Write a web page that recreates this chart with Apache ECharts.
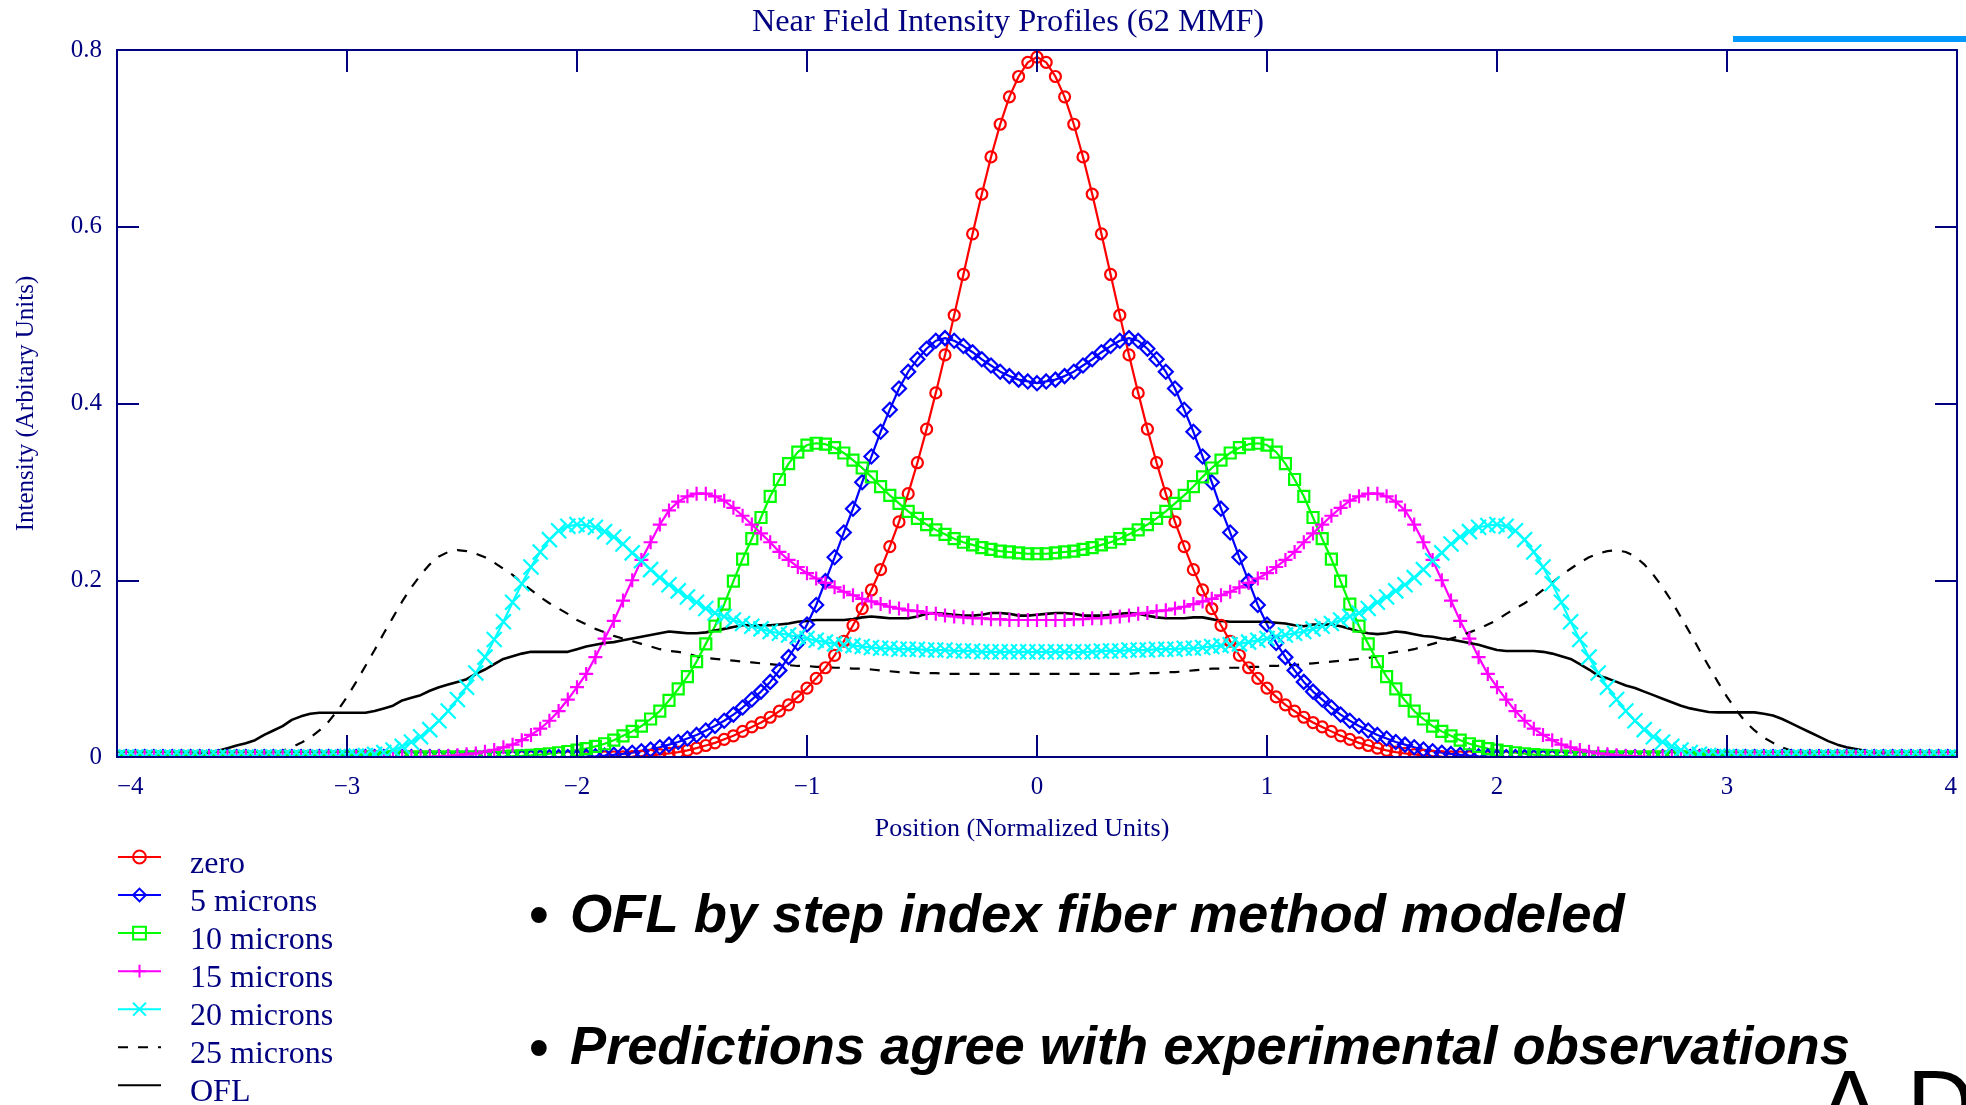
<!DOCTYPE html>
<html>
<head>
<meta charset="UTF-8">
<title>Near Field Intensity Profiles (62 MMF)</title>
<style>
  html, body { margin: 0; padding: 0; background: #ffffff; }
  #chart { width: 1966px; height: 1105px; }
</style>
</head>
<body>
<div id="chart"></div>
<script src="https://cdn.jsdelivr.net/npm/echarts@6/dist/echarts.min.js"></script>
<script>
// sample positions (normalized units), one every 0.04
var positions = [
  -4.00,-3.96,-3.92,-3.88,-3.84,-3.80,-3.76,-3.72,-3.68,-3.64,
  -3.60,-3.56,-3.52,-3.48,-3.44,-3.40,-3.36,-3.32,-3.28,-3.24,
  -3.20,-3.16,-3.12,-3.08,-3.04,-3.00,-2.96,-2.92,-2.88,-2.84,
  -2.80,-2.76,-2.72,-2.68,-2.64,-2.60,-2.56,-2.52,-2.48,-2.44,
  -2.40,-2.36,-2.32,-2.28,-2.24,-2.20,-2.16,-2.12,-2.08,-2.04,
  -2.00,-1.96,-1.92,-1.88,-1.84,-1.80,-1.76,-1.72,-1.68,-1.64,
  -1.60,-1.56,-1.52,-1.48,-1.44,-1.40,-1.36,-1.32,-1.28,-1.24,
  -1.20,-1.16,-1.12,-1.08,-1.04,-1.00,-0.96,-0.92,-0.88,-0.84,
  -0.80,-0.76,-0.72,-0.68,-0.64,-0.60,-0.56,-0.52,-0.48,-0.44,
  -0.40,-0.36,-0.32,-0.28,-0.24,-0.20,-0.16,-0.12,-0.08,-0.04,
  0,
  0.04,0.08,0.12,0.16,0.20,0.24,0.28,0.32,0.36,0.40,
  0.44,0.48,0.52,0.56,0.60,0.64,0.68,0.72,0.76,0.80,
  0.84,0.88,0.92,0.96,1.00,1.04,1.08,1.12,1.16,1.20,
  1.24,1.28,1.32,1.36,1.40,1.44,1.48,1.52,1.56,1.60,
  1.64,1.68,1.72,1.76,1.80,1.84,1.88,1.92,1.96,2.00,
  2.04,2.08,2.12,2.16,2.20,2.24,2.28,2.32,2.36,2.40,
  2.44,2.48,2.52,2.56,2.60,2.64,2.68,2.72,2.76,2.80,
  2.84,2.88,2.92,2.96,3.00,3.04,3.08,3.12,3.16,3.20,
  3.24,3.28,3.32,3.36,3.40,3.44,3.48,3.52,3.56,3.60,
  3.64,3.68,3.72,3.76,3.80,3.84,3.88,3.92,3.96,4.00
];

var zero = [
  0,0,0,0,0,0,0,0,0,0, 0,0,0,0,0,0,0,0,0,0, 0,0,0,0,0,0,0,0,0,0,
  0,0,0,0,0,0,0,0,0,0, 0,0,0,0,0,0,0,0,0,0, 0,0,0,0,0,
  0.0002,0.0005,0.001,0.0018,0.0028,0.004,0.0055,0.0075,0.010,0.013,
  0.016,0.020,0.024,0.029,0.034,0.039,0.045,0.052,0.059,0.068,
  0.078,0.089,0.101,0.115,0.131,0.149,0.168,0.189,0.212,0.238,
  0.266,0.298,0.333,0.371,0.412,0.455,0.500,0.546,0.592,0.637,
  0.679,0.716,0.747,0.770,0.786,
  0.792,
  0.786,0.770,0.747,0.716,0.679,
  0.637,0.592,0.546,0.500,0.455,0.412,0.371,0.333,0.298,0.266,
  0.238,0.212,0.189,0.168,0.149,0.131,0.115,0.101,0.089,0.078,
  0.068,0.059,0.052,0.045,0.039,0.034,0.029,0.024,0.020,0.016,
  0.013,0.010,0.0075,0.0055,0.004,0.0028,0.0018,0.001,0.0005,0.0002,
  0,0,0,0,0,0,0,0,0,0, 0,0,0,0,0,0,0,0,0,0, 0,0,0,0,0,0,0,0,0,0,
  0,0,0,0,0,0,0,0,0,0, 0,0,0,0,0,0,0,0,0,0, 0,0,0,0,0
];

var fiveMicrons = [
  0,0,0,0,0,0,0,0,0,0, 0,0,0,0,0,0,0,0,0,0, 0,0,0,0,0,0,0,0,0,0,
  0,0,0,0,0,0,0,0,0,0, 0,0,0,0,0,0,0,0,0,0,
  0.0001,0.0004,0.0008,0.0015,0.0025,0.0035,0.0048,0.0065,0.0085,0.011,
  0.014,0.017,0.021,0.025,0.030,0.035,0.041,0.048,0.056,0.065,
  0.074,0.085,0.098,0.113,0.129,0.150,0.172,0.199,0.226,0.254,
  0.281,0.311,0.340,0.368,0.393,0.417,0.436,0.450,0.462,0.471,
  0.474,0.471,0.465,0.458,0.450,0.443,0.436,0.431,0.427,0.425,
  0.423,
  0.425,0.427,0.431,0.436,0.443,0.450,0.458,0.465,0.471,0.474,
  0.471,0.462,0.450,0.436,0.417,0.393,0.368,0.340,0.311,0.281,
  0.254,0.226,0.199,0.172,0.150,0.129,0.113,0.098,0.085,0.074,
  0.065,0.056,0.048,0.041,0.035,0.030,0.025,0.021,0.017,0.014,
  0.011,0.0085,0.0065,0.0048,0.0035,0.0025,0.0015,0.0008,0.0004,0.0001,
  0,0,0,0,0,0,0,0,0,0, 0,0,0,0,0,0,0,0,0,0, 0,0,0,0,0,0,0,0,0,0,
  0,0,0,0,0,0,0,0,0,0, 0,0,0,0,0,0,0,0,0,0
];

var tenMicrons = [
  0,0,0,0,0,0,0,0,0,0, 0,0,0,0,0,0,0,0,0,0, 0,0,0,0,0,0,0,0,0,0,
  0,0,0,0,0,0,0,0,0,0, 0,
  0.0002,0.0005,0.0009,0.0014,0.002,0.0027,0.0037,0.0048,0.0062,0.0078,
  0.0095,0.012,0.015,0.019,0.024,0.029,0.035,0.043,0.052,0.064,
  0.077,0.091,0.108,0.128,0.148,0.173,0.199,0.224,0.247,0.271,
  0.295,0.314,0.332,0.345,0.353,0.355,0.354,0.350,0.344,0.336,
  0.327,0.317,0.306,0.296,0.287,0.278,0.270,0.263,0.257,0.252,
  0.247,0.243,0.240,0.237,0.235,0.233,0.232,0.231,0.230,
  0.230,
  0.230,0.231,0.232,0.233,0.235,0.237,0.240,0.243,0.247,
  0.252,0.257,0.263,0.270,0.278,0.287,0.296,0.306,0.317,0.327,
  0.336,0.344,0.350,0.354,0.355,0.353,0.345,0.332,0.314,0.295,
  0.271,0.247,0.224,0.199,0.173,0.148,0.128,0.108,0.091,0.077,
  0.064,0.052,0.043,0.035,0.029,0.024,0.019,0.015,0.012,0.0095,
  0.0078,0.0062,0.0048,0.0037,0.0027,0.002,0.0014,0.0009,0.0005,0.0002,
  0,0,0,0,0,0,0,0,0,0, 0,0,0,0,0,0,0,0,0,0, 0,0,0,0,0,0,0,0,0,0,
  0,0,0,0,0,0,0,0,0,0, 0
];

var fifteenMicrons = [
  0,0,0,0,0,0,0,0,0,0, 0,0,0,0,0,0,0,0,0,0, 0,0,0,0,0,0,0,0,0,0,
  0,0,0,0,
  0.0002,0.0006,0.0012,0.002,0.003,0.004,0.006,
  0.008,0.011,0.014,0.019,0.025,0.032,0.041,0.052,0.065,0.079,
  0.094,0.113,0.134,0.154,0.177,0.200,0.223,0.243,0.263,0.279,
  0.289,0.295,0.298,0.298,0.295,0.290,0.282,0.273,0.263,0.253,
  0.243,0.232,0.223,0.215,0.208,0.202,0.197,0.192,0.187,0.183,
  0.179,0.176,0.173,0.170,0.168,0.166,0.165,0.163,0.162,0.160,
  0.159,0.158,0.157,0.157,0.156,0.156,0.155,0.155,0.155,
  0.155,
  0.155,0.155,0.155,0.156,0.156,0.157,0.157,0.158,0.159,
  0.160,0.162,0.163,0.165,0.166,0.168,0.170,0.173,0.176,0.179,
  0.183,0.187,0.192,0.197,0.202,0.208,0.215,0.223,0.232,0.243,
  0.253,0.263,0.273,0.282,0.290,0.295,0.298,0.298,0.295,0.289,
  0.279,0.263,0.243,0.223,0.200,0.177,0.154,0.134,0.113,0.094,
  0.079,0.065,0.052,0.041,0.032,0.025,0.019,0.014,0.011,0.008,
  0.006,0.004,0.003,0.002,0.0012,0.0006,0.0002,
  0,0,0,0,0,0,0,0,0,0, 0,0,0,0,0,0,0,0,0,0, 0,0,0,0,0,0,0,0,0,0,
  0,0,0,0
];

var twentyMicrons = [
  0,0,0,0,0,0,0,0,0,0, 0,0,0,0,0,0,0,0,0,0, 0,0,0,0,
  0.0002,0.0005,0.001,0.0018,0.003,0.005,0.008,
  0.012,0.017,0.023,0.031,0.041,0.052,0.065,0.079,0.095,0.113,
  0.133,0.153,0.175,0.196,0.215,0.232,0.246,0.256,0.261,0.263,
  0.262,0.260,0.255,0.249,0.241,0.231,0.222,0.212,0.203,0.195,
  0.188,0.181,0.175,0.168,0.163,0.159,0.155,0.151,0.148,0.145,
  0.142,0.140,0.138,0.136,0.134,0.132,0.130,0.128,0.127,0.126,
  0.125,0.124,0.123,0.123,0.122,0.122,0.122,0.121,0.121,0.121,
  0.120,0.120,0.120,0.119,0.119,0.119,0.119,0.119,0.119,
  0.119,
  0.119,0.119,0.119,0.119,0.119,0.119,0.120,0.120,0.120,
  0.121,0.121,0.121,0.122,0.122,0.122,0.123,0.123,0.124,0.125,
  0.126,0.127,0.128,0.130,0.132,0.134,0.136,0.138,0.140,0.142,
  0.145,0.148,0.151,0.155,0.159,0.163,0.168,0.175,0.181,0.188,
  0.195,0.203,0.212,0.222,0.231,0.241,0.249,0.255,0.260,0.262,
  0.263,0.261,0.256,0.246,0.232,0.215,0.196,0.175,0.153,0.133,
  0.113,0.095,0.079,0.065,0.052,0.041,0.031,0.023,0.017,0.012,
  0.008,0.005,0.003,0.0018,0.001,0.0005,0.0002,
  0,0,0,0,0,0,0,0,0,0, 0,0,0,0,0,0,0,0,0,0, 0,0,0,0
];

var twentyFiveMicrons = [
  0,0,0,0,0,0,0,0,0,0, 0,0,0,
  0.0002,0.0007,0.0015,0.0028,0.0045,0.007,0.011,0.016,
  0.022,0.030,0.040,0.053,0.068,0.085,0.103,0.121,0.140,0.158,
  0.176,0.192,0.206,0.218,0.227,0.232,0.234,0.233,0.230,0.226,
  0.220,0.213,0.206,0.197,0.189,0.181,0.174,0.168,0.162,0.155,
  0.150,0.145,0.141,0.137,0.134,0.131,0.128,0.125,0.122,0.120,
  0.119,0.117,0.114,0.112,0.111,0.110,0.109,0.108,0.107,0.106,
  0.105,0.104,0.104,0.103,0.103,0.102,0.102,0.101,0.101,0.100,
  0.100,0.099,0.098,0.097,0.096,0.096,0.095,0.095,0.095,0.094,
  0.094,0.094,0.094,0.094,0.094,0.094,0.094,0.094,0.094,
  0.094,
  0.094,0.094,0.094,0.094,0.094,0.094,0.094,0.094,0.094,
  0.094,0.095,0.095,0.095,0.096,0.096,0.097,0.098,0.099,0.100,
  0.100,0.101,0.101,0.102,0.102,0.103,0.103,0.104,0.104,0.105,
  0.106,0.107,0.108,0.109,0.110,0.111,0.112,0.114,0.117,0.119,
  0.120,0.122,0.125,0.128,0.131,0.134,0.137,0.141,0.145,0.150,
  0.155,0.162,0.168,0.174,0.181,0.189,0.197,0.206,0.213,0.220,
  0.226,0.230,0.233,0.234,0.232,0.227,0.218,0.206,0.192,0.176,
  0.158,0.140,0.121,0.103,0.085,0.068,0.053,0.040,0.030,0.022,
  0.016,0.011,0.007,0.0045,0.0028,0.0015,0.0007,0.0002,
  0,0,0,0,0,0,0,0,0,0, 0,0,0
];

var ofl = [
  0,0,0,0,0,0,0.0003,0.001,0.002,0.0035,
  0.005,0.007,0.010,0.013,0.0155,0.019,0.025,0.030,0.035,0.042,
  0.046,0.049,0.050,0.050,0.050,0.050,0.050,0.050,0.052,0.055,
  0.058,0.064,0.067,0.070,0.075,0.079,0.082,0.085,0.088,0.094,
  0.099,0.105,0.111,0.114,0.117,0.119,0.119,0.119,0.119,0.119,
  0.122,0.125,0.127,0.129,0.130,0.132,0.134,0.136,0.138,0.140,
  0.142,0.141,0.140,0.140,0.141,0.143,0.145,0.147,0.149,0.149,
  0.149,0.149,0.150,0.151,0.153,0.154,0.155,0.155,0.155,0.155,
  0.156,0.158,0.159,0.158,0.157,0.157,0.157,0.159,0.162,0.163,
  0.162,0.161,0.160,0.160,0.161,0.163,0.163,0.162,0.160,0.160,
  0.161,
  0.162,0.163,0.163,0.162,0.160,0.160,0.160,0.161,0.162,0.163,
  0.162,0.160,0.158,0.157,0.157,0.157,0.158,0.158,0.156,0.154,
  0.153,0.153,0.153,0.153,0.153,0.152,0.151,0.149,0.148,0.150,
  0.150,0.150,0.148,0.145,0.142,0.140,0.139,0.140,0.142,0.141,
  0.139,0.137,0.136,0.134,0.133,0.131,0.129,0.127,0.124,0.121,
  0.120,0.120,0.120,0.120,0.119,0.117,0.114,0.111,0.105,0.099,
  0.092,0.089,0.085,0.081,0.078,0.074,0.070,0.066,0.062,0.058,
  0.055,0.053,0.051,0.0505,0.0505,0.0505,0.0505,0.0505,0.049,0.047,
  0.043,0.038,0.033,0.028,0.023,0.018,0.014,0.011,0.009,0.007,
  0.005,0.003,0.0015,0.0005,0,0,0,0,0,0
];

var seriesNames = ['zero', '5 microns', '10 microns', '15 microns', '20 microns', '25 microns', 'OFL'];
var seriesValues = [zero, fiveMicrons, tenMicrons, fifteenMicrons, twentyMicrons, twentyFiveMicrons, ofl];
var xTicks = [-4, -3, -2, -1, 0, 1, 2, 3, 4];
var yTicks = [0, 0.2, 0.4, 0.6, 0.8];

var navy = '#000080';
var serif = '"Liberation Serif", "Times New Roman", serif';
var sans = '"Liberation Sans", Arial, sans-serif';

var looks = [
  { color: '#ff0000', symbol: 'circle', size: 11 },
  { color: '#0000ff', symbol: 'diamond', size: 14 },
  { color: '#00ff00', symbol: 'rect', size: 11 },
  { color: '#ff00ff', symbol: 'path://M0,5L10,5M5,0L5,10', size: 14 },
  { color: '#00ffff', symbol: 'path://M0,0L10,10M10,0L0,10', size: 15 },
  { color: '#000000', symbol: 'none', dash: [10, 10] },
  { color: '#000000', symbol: 'none', width: 2.6 }
];

var chart = echarts.init(document.getElementById('chart'));

function axisBase(extra) {
  var base = {
    type: 'value',
    axisLine: { show: true, onZero: false, lineStyle: { color: navy, width: 2 } },
    axisTick: { show: true, inside: true, length: 22, lineStyle: { color: navy, width: 2 } },
    splitLine: { show: false },
    z: 10
  };
  for (var k in extra) base[k] = extra[k];
  return base;
}

var xLabel = function (v) { return v < 0 ? '\u2212' + Math.abs(v) : String(v); };

chart.setOption({
  animation: false,
  backgroundColor: '#ffffff',
  grid: { left: 117, right: 9, top: 50, bottom: 348 },
  xAxis: [
    axisBase({
      position: 'bottom', min: xTicks[0], max: xTicks[xTicks.length - 1], interval: 1,
      name: 'Position (Normalized Units)', nameLocation: 'middle', nameGap: 59,
      nameTextStyle: { fontFamily: serif, fontSize: 26, color: navy, padding: [0, 30, 0, 0] },
      axisLabel: {
        fontFamily: serif, fontSize: 25, color: navy, margin: 18,
        alignMinLabel: 'left', alignMaxLabel: 'right', formatter: xLabel
      }
    }),
    axisBase({
      position: 'top', min: xTicks[0], max: xTicks[xTicks.length - 1], interval: 1,
      axisLabel: { show: false }
    })
  ],
  yAxis: [
    axisBase({
      position: 'left', min: yTicks[0], max: yTicks[yTicks.length - 1], interval: 0.2,
      name: 'Intensity (Arbitary Units)', nameLocation: 'middle', nameGap: 78,
      nameTextStyle: { fontFamily: serif, fontSize: 25, color: navy },
      axisLabel: { fontFamily: serif, fontSize: 25, color: navy, margin: 15 }
    }),
    axisBase({
      position: 'right', min: yTicks[0], max: yTicks[yTicks.length - 1], interval: 0.2,
      axisLabel: { show: false }
    })
  ],
  legend: seriesNames.map(function (name, s) {
    return {
      data: [name], orient: 'vertical', left: 117, top: 857 + s * 38.05 - 23.5,
      padding: 0, itemWidth: 43, itemHeight: 16, selectedMode: false,
      formatter: '{t|{name}}',
      textStyle: {
        padding: [0, 0, 0, 24],
        rich: { t: { fontFamily: serif, fontSize: 32, color: navy, lineHeight: 32, padding: [15, 0, 0, 0] } }
      }
    };
  }),
  series: seriesNames.map(function (name, s) {
    var look = looks[s];
    var marked = look.symbol !== 'none';
    return {
      name: name,
      type: 'line',
      xAxisIndex: 0,
      yAxisIndex: 0,
      data: positions.map(function (x, i) { return [x, seriesValues[s][i]]; }),
      symbol: look.symbol,
      symbolSize: look.size || 4,
      showSymbol: marked,
      color: look.color,
      itemStyle: { color: 'rgba(255,255,255,0)', borderColor: look.color, borderWidth: marked ? 2.2 : 0 },
      lineStyle: { color: look.color, width: look.width || 2.2, type: look.dash || 'solid' },
      emphasis: { disabled: true },
      z: 2
    };
  }),
  graphic: { elements: [
    // hide the marker halves that spill outside the frame
    { type: 'rect', silent: true, z: 5, shape: { x: 100, y: 758, width: 1866, height: 10 }, style: { fill: '#ffffff' } },
    { type: 'rect', silent: true, z: 5, shape: { x: 104, y: 40, width: 12, height: 720 }, style: { fill: '#ffffff' } },
    { type: 'rect', silent: true, z: 5, shape: { x: 1958, y: 40, width: 8, height: 720 }, style: { fill: '#ffffff' } },
    { type: 'text', z: 20, x: 1008, y: 23, style: {
      text: 'Near Field Intensity Profiles (62 MMF)', fill: navy, fontFamily: serif, fontSize: 32.3,
      align: 'center', verticalAlign: 'middle', textAlign: 'center', textVerticalAlign: 'middle' } },
    { type: 'rect', silent: true, z: 20, shape: { x: 1733, y: 36, width: 233, height: 6 }, style: { fill: '#0099ff' } },
    { type: 'text', z: 20, x: 539, y: 918, style: {
      text: '\u2022', fill: '#000000', fontFamily: sans, fontSize: 55, fontWeight: 'bold',
      align: 'center', verticalAlign: 'middle', textAlign: 'center', textVerticalAlign: 'middle' } },
    { type: 'text', z: 20, x: 570, y: 916.5, style: {
      text: 'OFL by step index fiber method modeled', fill: '#000000', fontFamily: sans, fontSize: 54.4,
      fontWeight: 'bold', fontStyle: 'italic',
      align: 'left', verticalAlign: 'middle', textAlign: 'left', textVerticalAlign: 'middle' } },
    { type: 'text', z: 20, x: 539, y: 1051, style: {
      text: '\u2022', fill: '#000000', fontFamily: sans, fontSize: 55, fontWeight: 'bold',
      align: 'center', verticalAlign: 'middle', textAlign: 'center', textVerticalAlign: 'middle' } },
    { type: 'text', z: 20, x: 570, y: 1049, style: {
      text: 'Predictions agree with experimental observations', fill: '#000000', fontFamily: sans, fontSize: 54.2,
      fontWeight: 'bold', fontStyle: 'italic',
      align: 'left', verticalAlign: 'middle', textAlign: 'left', textVerticalAlign: 'middle' } },
    { type: 'text', z: 20, x: 1818, y: 1110, style: {
      text: 'A D', fill: '#000000', fontFamily: sans, fontSize: 94,
      align: 'left', verticalAlign: 'middle', textAlign: 'left', textVerticalAlign: 'middle' } }
  ] }
});
</script>
</body>
</html>
